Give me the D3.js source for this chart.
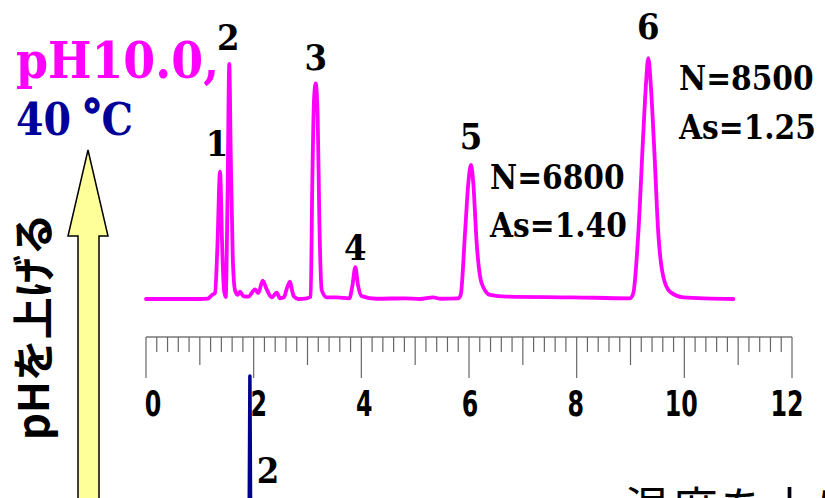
<!DOCTYPE html>
<html><head><meta charset="utf-8">
<script src="https://cdn.jsdelivr.net/npm/d3@7"></script>
<style>body{margin:0;background:#fff}svg{display:block}</style>
</head><body>
<svg id="c" width="825" height="498"></svg>
<script>
// ---- data ----
const traceTime = [0,1.003,1.152,1.226,1.282,1.324,1.375,1.417,1.449,1.480,1.514,1.547,1.573,1.611,1.653,1.700,1.746,1.807,1.900,2.025,2.086,2.168,2.242,2.335,2.428,2.489,2.563,2.619,2.675,2.712,2.749,2.829,2.985,3.059,3.089,3.121,3.152,3.189,3.219,3.264,3.357,3.543,3.777,3.836,3.888,3.938,4.007,4.285,4.811,5.090,5.337,5.461,5.801,5.846,5.926,5.987,6.037,6.080,6.143,6.236,6.390,6.700,7.932,8.991,9.052,9.145,9.238,9.288,9.331,9.375,9.442,9.516,9.609,9.734,9.981,10.910];
const traceSignal = [0,0,0.2,1.7,2.5,20.3,52.8,20.3,3.7,0.8,41.1,97.5,61.8,17.6,3.7,1.7,3.0,1.2,1.0,4.0,2.5,7.6,4.0,0.7,2.6,0.3,0.7,4.6,7.2,3.7,1.0,0,0.3,1.0,48.0,82.6,89.5,75.6,34.1,3.7,0.7,0.7,0.3,5.8,13.2,5.8,1.2,0.1,0.3,0,0.7,0.1,0.3,1.7,27.3,48.0,55.6,48.0,23.1,6.5,1.7,1.0,0.7,0.3,2.4,27.3,68.8,89.5,99.9,89.5,61.8,27.3,9.3,3.0,0.7,0];
const peakNames = ["1","2","3","4","5","6"];
const peakTime = [1.375,1.547,3.152,3.888,6.037,9.331];
const peakSignal = [52.8,97.5,89.5,13.2,55.6,99.9];
const lowerTime = [1.905,1.93,1.955];
const lowerSignal = [0,100,0];
const tickLabels = ["0","2","4","6","8","10","12"];
const tickLabelValues = [0,2,4,6,8,10,12];
const plateInfo = [["N=6800","As=1.40"],["N=8500","As=1.25"]];

// ---- scales ----
const svg = d3.select("#c");
svg.append("rect").attr("width",825).attr("height",498).attr("fill","#fff");
const x = d3.scaleLinear().domain([0,12]).range([146,792]);
const xLab = d3.scaleLinear().domain([0,12]).range([153,787]);
const y = d3.scaleLinear().domain([0,100]).range([299,58]);
const y2 = d3.scaleLinear().domain([0,100]).range([640,376]);
const serif = "'DejaVu Serif Condensed','DejaVu Serif',serif";

// ---- arrow ----
svg.append("polygon")
  .attr("points","88,150 108,236 99,236 99,520 78,520 78,236 68,236")
  .attr("fill","#ffff99").attr("stroke","#000").attr("stroke-width",1.5);

// vertical japanese text
svg.append("text").attr("transform","translate(49,440) rotate(-90)")
  .attr("font-family","'Noto Sans CJK JP',sans-serif").attr("font-size",42)
  .attr("font-weight","bold").attr("fill","#000").text("pHを上げる");

// ---- ruler axis ----
const g = svg.append("g");
g.append("line").attr("x1",x(0)).attr("x2",x(12)).attr("y1",337).attr("y2",337)
  .attr("stroke","#777").attr("stroke-width",1.3);
const ticks = x.ticks(60);
g.selectAll("line.t").data(ticks).join("line").attr("class","t")
  .attr("x1",d=>x(d)).attr("x2",d=>x(d)).attr("y1",337)
  .attr("y2",d=>{const r=Math.round(d*5); return r%10===0?378:(r%5===0?365:352);})
  .attr("stroke","#666").attr("stroke-width",1.2);
g.selectAll("text.tl").data(tickLabelValues).join("text").attr("class","tl")
  .attr("transform",d=>`translate(${xLab(d)},416) scale(0.66,1)`).attr("text-anchor","middle")
  .attr("font-family","'DejaVu Sans',sans-serif").attr("font-weight","bold")
  .attr("font-size",36).attr("fill","#000").text((d,i)=>tickLabels[i]);

// ---- lower trace (40 C) ----
const lowerData = lowerTime.map((t,i)=>({t,s:lowerSignal[i]}));
svg.append("path").datum(lowerData)
  .attr("d",d3.line().x(d=>x(d.t)).y(d=>y2(d.s)))
  .attr("fill","none").attr("stroke","#000090").attr("stroke-width",3.5).attr("stroke-linejoin","round");
svg.append("text").attr("x",268).attr("y",483).attr("text-anchor","middle")
  .attr("font-family",serif).attr("font-weight","bold").attr("font-size",36).text("2");

// ---- main trace ----
const data = traceTime.map((t,i)=>({t,s:traceSignal[i]}));
svg.append("path").datum(data)
  .attr("d",d3.line().x(d=>x(d.t)).y(d=>y(d.s)).curve(d3.curveMonotoneX))
  .attr("fill","none").attr("stroke","#ff00ff").attr("stroke-width",3.8)
  .attr("stroke-linejoin","round").attr("stroke-linecap","round");

// peak labels
const labOff = [16,14,13,7,16,19];
svg.selectAll("text.pk").data(peakNames).join("text").attr("class","pk")
  .attr("x",(d,i)=>x(peakTime[i])-(i===0?3:(i===1?1:0)))
  .attr("y",(d,i)=>y(peakSignal[i])-labOff[i])
  .attr("text-anchor","middle").attr("font-family",serif).attr("font-weight","bold")
  .attr("font-size",36).attr("fill","#000").text(d=>d);

// plate info
const infoPos = [[490,189,237],[679,90,139]];
plateInfo.forEach((p,i)=>{
  [0,1].forEach(j=>{
    svg.append("text").attr("x",infoPos[i][0]).attr("y",infoPos[i][1+j])
      .attr("font-family",serif).attr("font-weight","bold").attr("font-size",33)
      .attr("fill","#000").text(p[j]);
  });
});

// titles
svg.append("text").attr("x",16).attr("y",78).attr("font-family",serif).attr("font-weight","bold")
  .attr("font-size",51).attr("fill","#ff00ff").text("pH10.0,");
const t2 = svg.append("text").attr("x",16).attr("y",135).attr("font-family",serif).attr("font-weight","bold")
  .attr("font-size",44).attr("fill","#000099");
t2.append("tspan").text("40 ");
t2.append("tspan").attr("font-size",46).attr("dy",-2).attr("dx",-3).attr("stroke","#000099").attr("stroke-width",1.5).text("°");
t2.append("tspan").attr("dy",2).attr("dx",-1).text("C");

// bottom japanese text
svg.append("text").attr("x",624).attr("y",525)
  .attr("font-family","'Noto Sans CJK JP',sans-serif").attr("font-size",46)
  .attr("letter-spacing",2).attr("fill","#000").text("温度を上げる");
</script>
</body></html>
